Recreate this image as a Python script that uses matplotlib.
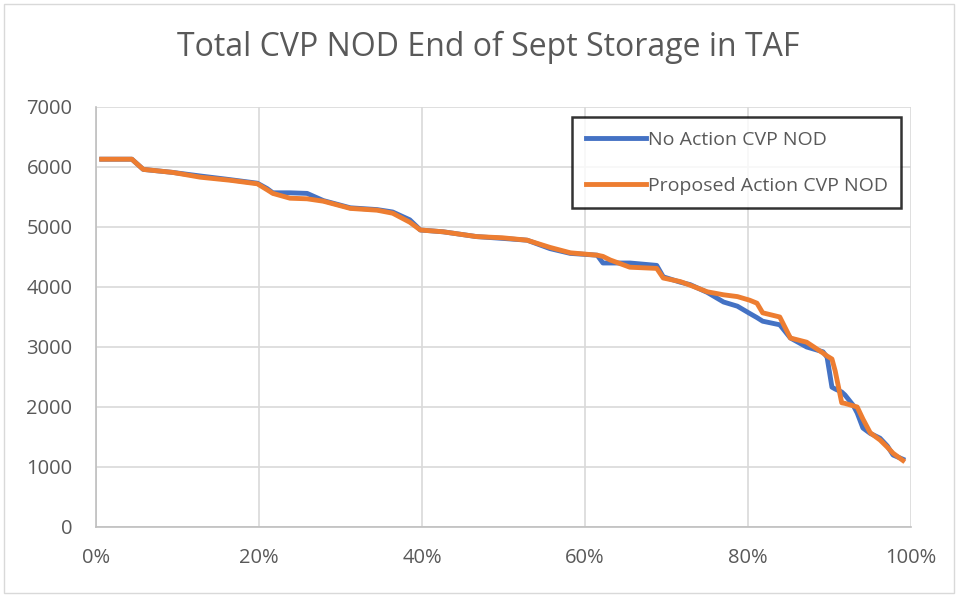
import matplotlib
matplotlib.use("Agg")
import matplotlib.pyplot as plt
from matplotlib.ticker import FuncFormatter, MultipleLocator
from matplotlib.patches import Rectangle

exceedance_pct = [0.7, 4.4, 5.8, 9.4, 12.8, 16.4, 19.8, 21.0, 21.7, 23.8, 25.9, 27.9,
                  31.2, 34.5, 36.4, 38.5, 39.8, 42.6, 46.7, 49.9, 52.9, 55.7, 58.2,
                  61.5, 62.2, 63.1, 65.5, 68.8, 69.6, 71.7, 72.9, 75.0, 77.0, 78.7,
                  80.2, 81.1, 81.8, 83.9, 85.2, 87.2, 89.2, 89.7, 90.3, 90.7, 91.5,
                  91.9, 92.9, 93.4, 94.1, 95.0, 96.2, 97.1, 97.8, 99.0]
no_action = [6130, 6130, 5960, 5910, 5850, 5790, 5730, 5640, 5570, 5570, 5560, 5440,
             5320, 5290, 5250, 5120, 4950, 4920, 4840, 4810, 4780, 4640, 4560,
             4530, 4400, 4400, 4400, 4360, 4170, 4080, 4040, 3910, 3750, 3680,
             3560, 3490, 3430, 3370, 3150, 3000, 2920, 2830, 2330, 2300, 2250,
             2200, 2030, 1900, 1650, 1560, 1480, 1350, 1200, 1130]
proposed = [6130, 6130, 5960, 5910, 5830, 5780, 5720, 5620, 5560, 5480, 5470, 5430,
            5310, 5280, 5230, 5080, 4950, 4920, 4840, 4820, 4780, 4660, 4570,
            4530, 4510, 4450, 4330, 4310, 4150, 4090, 4030, 3920, 3870, 3840,
            3780, 3730, 3570, 3500, 3150, 3080, 2900, 2850, 2800, 2600, 2070,
            2060, 2020, 2000, 1800, 1570, 1450, 1330, 1230, 1110]
series_names = ["No Action CVP NOD", "Proposed Action CVP NOD"]
title = "Total CVP NOD End of Sept Storage in TAF"

W, H = 958, 597
fig = plt.figure(figsize=(W / 100, H / 100), dpi=100)
ax = fig.add_axes([96 / W, 1 - 527 / H, (911 - 96) / W, (527 - 107) / H])

fig.patches.append(Rectangle((4 / W, 4 / H), 1 - 8 / W, 1 - 8 / H, transform=fig.transFigure,
                             fill=False, edgecolor="#d9d9d9", linewidth=1))

ax.plot(exceedance_pct, no_action, color="#4472C4", linewidth=3.5, label=series_names[0],
        solid_joinstyle="round", zorder=3)
ax.plot(exceedance_pct, proposed, color="#ED7D31", linewidth=3.5, label=series_names[1],
        solid_joinstyle="round", zorder=4)

ax.set_xlim(0, 100)
ax.set_ylim(0, 7000)
ax.xaxis.set_major_locator(MultipleLocator(20))
ax.yaxis.set_major_locator(MultipleLocator(1000))
ax.xaxis.set_major_formatter(FuncFormatter(lambda v, p: f"{int(round(v))}%"))
ax.grid(True, color="#d9d9d9", linewidth=1.2)
ax.set_axisbelow(True)
for s in ["top", "right"]:
    ax.spines[s].set_visible(False)
for s in ["left", "bottom"]:
    ax.spines[s].set_color("#bfbfbf")
    ax.spines[s].set_linewidth(1.2)
ax.tick_params(axis="y", length=0, labelsize=14.5, labelcolor="#595959", pad=17)
ax.tick_params(axis="x", length=0, labelsize=14.5, labelcolor="#595959", pad=15)
for lbl in ax.get_xticklabels() + ax.get_yticklabels():
    lbl.set_family("Open Sans")

fig.text(488 / W, 1 - 47 / H, title, ha="center", va="center", fontsize=23,
         color="#595959", family="Open Sans")

leg = ax.legend(loc="upper left", bbox_to_anchor=((572 - 96) / (911 - 96), (527 - 117) / (527 - 107)),
                frameon=True, fancybox=False, prop={"family": "Open Sans", "size": 14},
                handlelength=3.1, handletextpad=0.1, borderpad=0.7, labelspacing=1.45,
                borderaxespad=0)
leg.get_frame().set_edgecolor("black")
leg.get_frame().set_linewidth(1.8)
for t in leg.get_texts():
    t.set_color("#595959")

fig.savefig("out.png", dpi=100)
